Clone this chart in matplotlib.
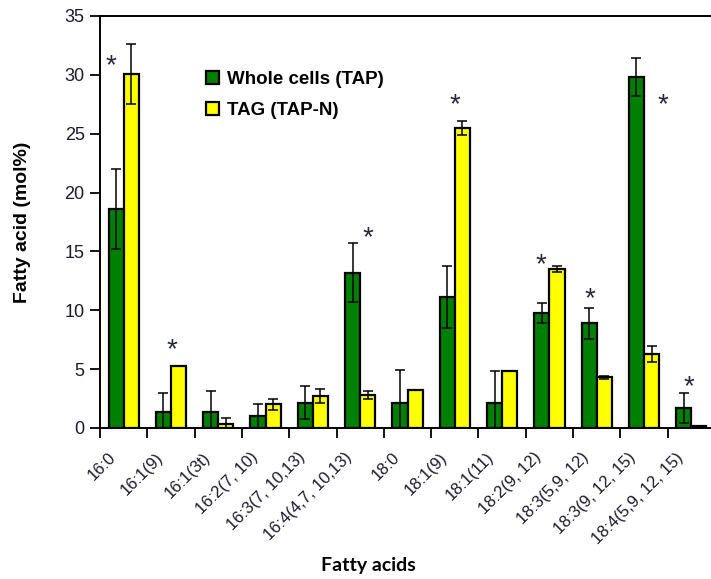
import matplotlib
matplotlib.use('Agg')
import matplotlib.pyplot as plt
import numpy as np

plt.rcParams['font.family'] = ['Liberation Sans', 'DejaVu Sans']

# Fatty acid composition, mol%
acids = ['16:0', '16:1(9)', '16:1(3t)', '16:2(7, 10)', '16:3(7, 10,13)', '16:4(4,7, 10,13)',
         '18:0', '18:1(9)', '18:1(11)', '18:2(9, 12)', '18:3(5,9, 12)', '18:3(9, 12, 15)',
         '18:4(5,9, 12, 15)']
whole_cells = [18.6, 1.35, 1.4, 1.0, 2.15, 13.2, 2.15, 11.15, 2.15, 9.75, 8.9, 29.8, 1.7]
whole_err = [3.4, 1.65, 1.75, 1.0, 1.4, 2.5, 2.8, 2.65, 2.65, 0.85, 1.3, 1.6, 1.25]
tag = [30.1, 5.3, 0.37, 2.0, 2.72, 2.8, 3.25, 25.5, 4.87, 13.5, 4.3, 6.3, 0.2]
tag_err = [2.55, 0.0, 0.45, 0.45, 0.57, 0.35, 0.0, 0.6, 0.0, 0.28, 0.1, 0.7, 0.0]

# significance marks: (category index, x offset in category units, height)
stars = [(0, -0.27, 30.7), (1, 0.03, 6.6), (5, 0.17, 16.1), (7, 0.0, 27.4),
         (9, -0.17, 13.8), (10, -0.15, 10.9), (11, 0.40, 27.4), (12, -0.06, 3.5)]

green = '#008000'
yellow = '#FFFF00'

fig = plt.figure(figsize=(7.11, 5.79), dpi=100)
fig.patch.set_facecolor('white')
ax = fig.add_axes([100 / 711, 151 / 579, 615 / 711, 412 / 579])

x = np.arange(len(acids))
w = 0.32
ax.bar(x - w / 2, whole_cells, width=w, color=green, edgecolor='black', linewidth=1.6,
       label='Whole cells (TAP)', zorder=2)
ax.bar(x + w / 2, tag, width=w, color=yellow, edgecolor='black', linewidth=1.6,
       label='TAG (TAP-N)', zorder=2)
ax.errorbar(x - w / 2, whole_cells, yerr=whole_err, fmt='none', ecolor='black',
            elinewidth=1.1, capsize=3.4, capthick=1.1, zorder=3)
ax.errorbar(x + w / 2, tag, yerr=tag_err, fmt='none', ecolor='black',
            elinewidth=1.1, capsize=3.4, capthick=1.1, zorder=3)

for i, dx, h in stars:
    ax.text(i + dx, h, '*', ha='center', va='center', fontsize=20, color='#26283a')

ax.set_xlim(-0.5, len(acids) - 0.5)
ax.set_ylim(0, 35)
ax.set_yticks(np.arange(0, 36, 5))
ax.tick_params(axis='y', direction='out', length=7, width=1.3, labelsize=13, pad=4,
               labelcolor='#1a1a2a')

# tick marks on the category boundaries, labels just left of each centre
ax.set_xticks(x - 0.22)
ax.set_xticks(np.arange(-0.5, len(acids), 1.0), minor=True)
ax.tick_params(axis='x', which='major', length=0, pad=19.5)
ax.tick_params(axis='x', which='minor', direction='out', length=7, width=1.3)
ax.set_xticklabels(acids, rotation=45, ha='right', va='center', rotation_mode='anchor',
                   fontsize=12, color='#1a1a2a')

for side in ['left', 'bottom', 'top']:
    ax.spines[side].set_linewidth(1.4)
ax.spines['right'].set_visible(False)

ax.set_ylabel('Fatty acid (mol%)', fontsize=14, fontweight='bold', labelpad=24)
fig.text(368 / 711, 1 - 566 / 579, 'Fatty acids', ha='center', va='center',
         fontsize=14, fontweight='bold', family=['Lato', 'DejaVu Sans'])

ax.legend(loc='upper left', bbox_to_anchor=(206 / 711, 1 - 71 / 579),
          bbox_transform=fig.transFigure, frameon=False,
          prop={'size': 13.5, 'weight': 'bold'},
          handlelength=0.7, handleheight=0.7, handletextpad=0.4, labelspacing=0.75,
          borderpad=0, borderaxespad=0)

plt.savefig('out.png', dpi=100, facecolor='white')
